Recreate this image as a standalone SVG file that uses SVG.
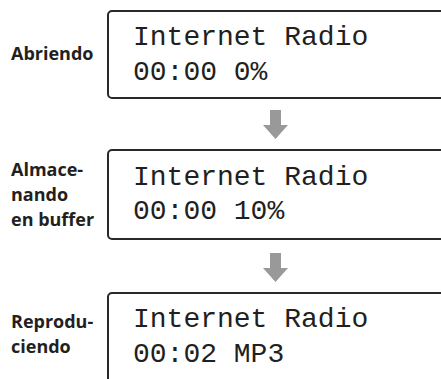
<svg xmlns="http://www.w3.org/2000/svg" width="441" height="379" viewBox="0 0 441 379">
<style>
.box{fill:#fff;stroke:#2b2829;stroke-width:2}
.lcd{font-family:"Liberation Mono","Courier New",monospace;font-size:28px;fill:#231f20}
.lbl{font-family:"Open Sans","Noto Sans",sans-serif;font-weight:bold;font-size:18px;fill:#231f20}
.arr{fill:#999999}
</style>
<rect width="441" height="379" fill="#fff"/>
<g id="connectors">
<path class="arr" d="M270 110H281V125H288L275.5 139L263 125H270Z"/>
<path class="arr" d="M270 253H281V268H288L275.5 282L263 268H270Z"/>
</g>
<g id="node1">
<rect class="box" x="108" y="11" width="345" height="87" rx="4"/>
<text class="lcd" x="133" y="45">Internet Radio</text>
<text class="lcd" x="133" y="80">00:00 0%</text>
<text class="lbl" x="11" y="60">Abriendo</text>
</g>
<g id="node2">
<rect class="box" x="108" y="150" width="345" height="89" rx="4"/>
<text class="lcd" x="133" y="185">Internet Radio</text>
<text class="lcd" x="133" y="219">00:00 10%</text>
<text class="lbl" x="11" y="176">Almace-</text>
<text class="lbl" x="11" y="201">nando</text>
<text class="lbl" x="11" y="226">en buffer</text>
</g>
<g id="node3">
<rect class="box" x="108" y="293" width="345" height="100" rx="4"/>
<text class="lcd" x="133" y="327">Internet Radio</text>
<text class="lcd" x="133" y="362">00:02 MP3</text>
<text class="lbl" x="11" y="328">Reprodu-</text>
<text class="lbl" x="11" y="353">ciendo</text>
</g>
</svg>
